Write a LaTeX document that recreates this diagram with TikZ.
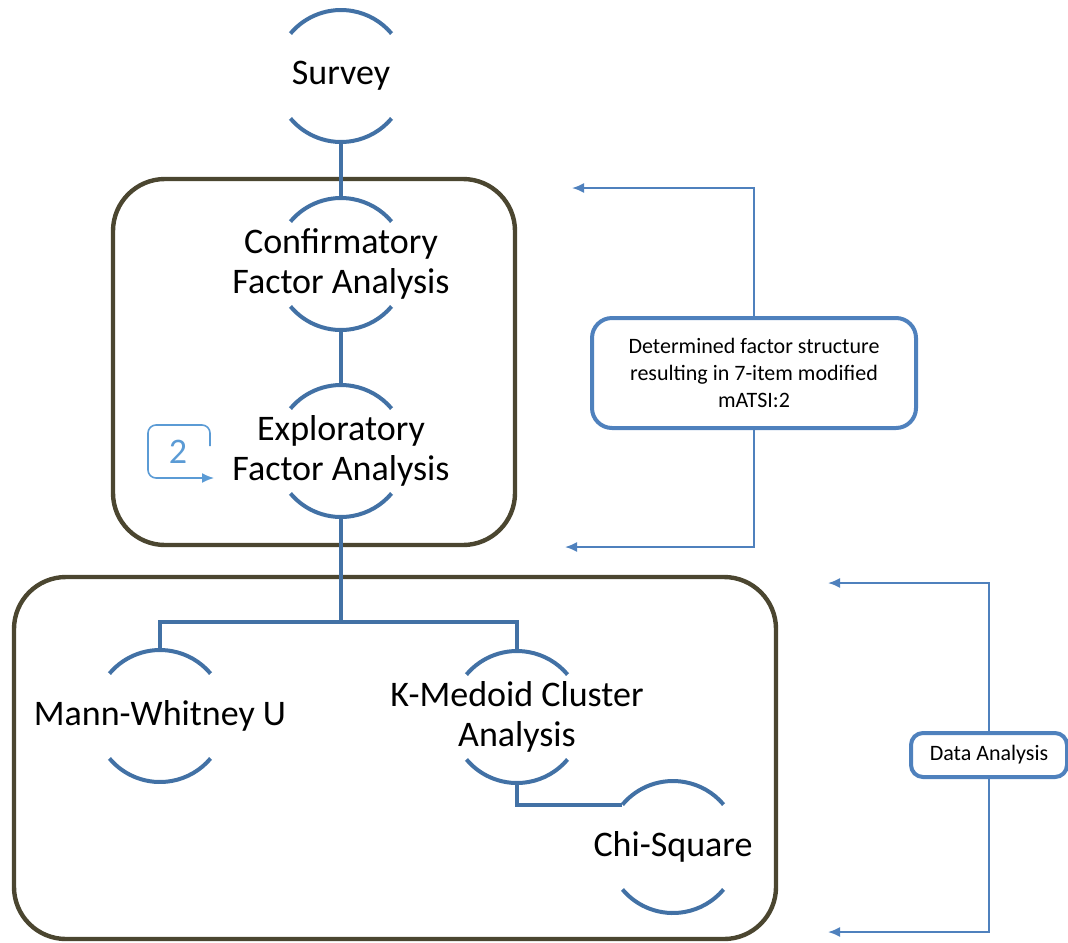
\documentclass[tikz,border=0pt]{standalone}
\usepackage{fontspec}
\setmainfont{Carlito}
\usepackage{tikz}
\usetikzlibrary{arrows.meta,positioning}
\definecolor{farc}{HTML}{4271A5}
\definecolor{fframe}{HTML}{4B4630}
\definecolor{fnote}{HTML}{4F81BD}
\definecolor{fcycle}{HTML}{5B9BD5}
\tikzset{
  stage/.style    = {circle, minimum size=66pt, inner sep=0pt, outer sep=0pt},
  stagetxt/.style = {font=\fontsize{18}{20}\selectfont, align=center, inner sep=0pt},
  link/.style     = {farc, line width=2pt},
  frame/.style    = {draw=fframe, line width=2.2pt, rounded corners=26pt},
  note/.style     = {draw=fnote, line width=2pt, rounded corners=10pt, align=center,
                     font=\fontsize{11}{13.5}\selectfont},
  feed/.style     = {-{Latex[length=6pt,width=5pt]}, fnote, line width=0.9pt},
}
\newcommand{\halves}[1]{%
  \draw[link] (#1.140) arc[start angle=140,end angle=40,radius=66];
  \draw[link] (#1.220) arc[start angle=220,end angle=320,radius=66];}

\begin{document}
\begin{tikzpicture}[x=0.5pt,y=0.5pt]
\useasboundingbox (0,0) rectangle (1068,-942);
% ---- the two group frames ----
\node[frame, minimum width=201pt, minimum height=183pt] (grpfa) at (314,-362) {};
\node[frame, minimum width=381pt, minimum height=181pt] (grpda) at (395,-758) {};
% ---- stages ----
\node[stage] (survey) at (341,-76) {};
\node[stage] (cfa) at (341,-264) {};
\node[stage] (efa) at (341,-451) {};
\node[stage] (mwu) at (160,-716) {};
\node[stage] (kmc) at (517,-717) {};
\node[stage] (chi) at (673,-847) {};
\node[stagetxt] (surveyt) at (survey) {Survey};
\node[stagetxt] (cfat) at (cfa) {Confirmatory\\Factor Analysis};
\node[stagetxt] (efat) at (efa) {Exploratory\\Factor Analysis};
\node[stagetxt] (mwut) at (mwu) {Mann-Whitney U};
\node[stagetxt] (kmct) at (kmc) {K-Medoid Cluster\\Analysis};
\node[stagetxt] (chit) at (chi) {Chi-Square};
\halves{survey}
\halves{cfa}
\halves{efa}
\halves{mwu}
\halves{kmc}
\halves{chi}
% ---- connectors ----
\coordinate (split) at (341,-622);
\draw[link] (survey.south) -- (cfa.north);
\draw[link] (cfa.south) -- (efa.north);
\draw[link] (efa.south) -- (split) -| (mwu.north);
\draw[link] (split) -| (kmc.north);
\draw[link] (kmc.south) |- (chi.140);
% ---- repeat mark ----
\node[stagetxt, fcycle] (cyc) at (178,-452) {2};
\draw[fcycle, line width=0.8pt, rounded corners=4pt, -{Latex[length=6pt,width=5pt]}]
  (210,-446) -- (210,-425) -- (148,-425) -- (148,-478) -- (214,-478);
% ---- side notes ----
\node[note, minimum width=162pt, minimum height=55pt] (fsnote) at (754,-373)
  {Determined factor structure\\resulting in 7-item modified\\mATSI:2};
\node[note, minimum width=78pt, minimum height=22pt, rounded corners=6pt] (danote) at (989,-755)
  {Data Analysis};
\coordinate (fsup) at (572,-188);
\coordinate (fsdown) at (565,-547);
\coordinate (daup) at (828,-583);
\coordinate (dadown) at (828,-932);
\draw[feed] (fsnote.north) |- (fsup);
\draw[feed] (fsnote.south) |- (fsdown);
\draw[feed] (danote.north) |- (daup);
\draw[feed] (danote.south) |- (dadown);
\end{tikzpicture}
\end{document}
